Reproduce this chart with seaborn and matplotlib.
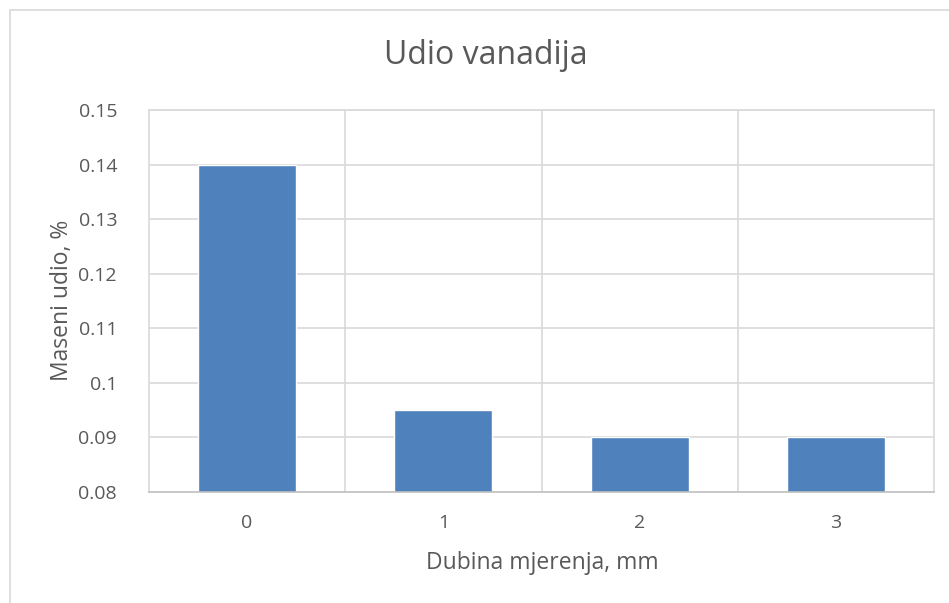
import matplotlib
matplotlib.use("Agg")
import matplotlib.pyplot as plt
from matplotlib.patches import Rectangle
import seaborn as sns
import pandas as pd

# Vanadium mass fraction at each measuring depth
depths = ["0", "1", "2", "3"]
fractions = [0.14, 0.095, 0.09, 0.09]
y_ticks = [0.08, 0.09, 0.10, 0.11, 0.12, 0.13, 0.14, 0.15]
y_tick_labels = ["0.08", "0.09", "0.1", "0.11", "0.12", "0.13", "0.14", "0.15"]

sns.set_theme(style="white")
plt.rcParams["font.family"] = ["Open Sans", "DejaVu Sans"]

df = pd.DataFrame({"depth": depths, "fraction": fractions})

W, H = 949, 603
fig = plt.figure(figsize=(W / 100, H / 100), dpi=100)
left, right, top, bottom = 149, 934, 110, 492
ax = fig.add_axes([left / W, 1 - bottom / H, (right - left) / W, (bottom - top) / H])

text_color = "#595959"
grid_color = "#d9d9d9"

# outer chart frame
fig.patches.append(Rectangle((10 / W, -0.1), 1.2, 1 - 10 / H + 0.1,
                             transform=fig.transFigure, fill=False,
                             edgecolor=grid_color, linewidth=1.2, zorder=0))

sns.barplot(data=df, x="depth", y="fraction", color="#4f81bd", width=0.5,
            saturation=1, ax=ax, zorder=3)

ax.set_ylim(0.08, 0.15)
ax.set_xlim(-0.5, 3.5)
ax.set_yticks(y_ticks)
ax.set_yticklabels(y_tick_labels)

# horizontal gridlines and category separators
for y in y_ticks[1:]:
    ax.axhline(y, color=grid_color, linewidth=1.2, zorder=1)
for x in [0.5, 1.5, 2.5]:
    ax.axvline(x, color=grid_color, linewidth=1.2, zorder=1)

for side in ["top", "right", "left"]:
    ax.spines[side].set_color(grid_color)
    ax.spines[side].set_linewidth(1.2)
ax.spines["bottom"].set_color("#bfbfbf")
ax.spines["bottom"].set_linewidth(1.2)
ax.spines["bottom"].set_zorder(4)

ax.tick_params(axis="both", length=0, colors=text_color, labelsize=14)
ax.tick_params(axis="x", pad=16)
ax.tick_params(axis="y", pad=23)

ax.set_xlabel("Dubina mjerenja, mm", fontsize=16.5, color=text_color, va="center")
ax.set_ylabel("Maseni udio, %", fontsize=16.5, color=text_color, va="center")
ax.xaxis.set_label_coords((542 - left) / (right - left), (bottom - 563) / (bottom - top))
ax.yaxis.set_label_coords((62 - left) / (right - left), (bottom - 300) / (bottom - top))
fig.text(486 / W, 1 - 55 / H, "Udio vanadija", ha="center", va="center",
         fontsize=23, color=text_color)

fig.savefig("out.png", dpi=100)
